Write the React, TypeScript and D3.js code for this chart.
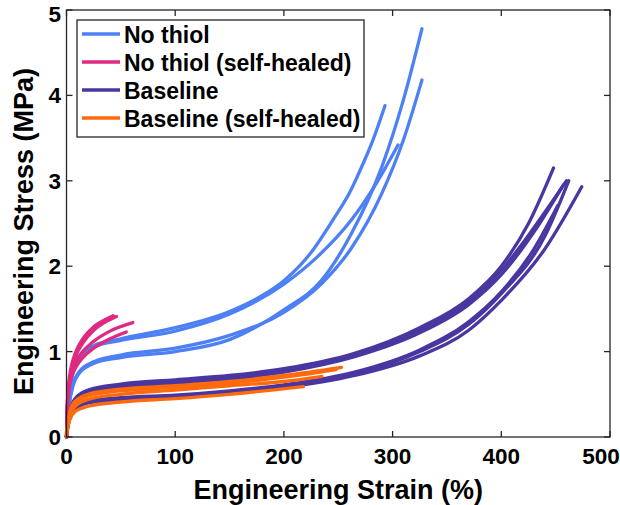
import React from "react";
import * as d3 from "d3";

type Pt = [number, number];

// Series (strain %, stress MPa)
const noThiol: Pt[][] = [
  [[0,0],[1,0.3],[3,0.58],[6,0.78],[12,0.95],[25,1.07],[50,1.15],[100,1.28],[150,1.47],[175,1.62],[200,1.83],[225,2.16],[245,2.54],[260,2.85],[270,3.12],[282,3.48],[293,3.88]],
  [[0,0],[1,0.28],[3,0.55],[6,0.75],[12,0.92],[25,1.05],[50,1.13],[100,1.24],[150,1.44],[200,1.79],[230,2.1],[262,2.54],[285,2.97],[305,3.42]],
  [[0,0],[1,0.2],[3,0.42],[6,0.6],[12,0.75],[25,0.86],[50,0.93],[100,1.0],[150,1.14],[200,1.49],[235,1.84],[262,2.38],[290,3.16],[310,3.95],[327,4.78]],
  [[0,0],[1,0.21],[3,0.44],[6,0.62],[12,0.77],[25,0.88],[50,0.96],[100,1.04],[150,1.19],[200,1.46],[235,1.8],[262,2.21],[290,2.85],[310,3.48],[327,4.18]],
];
const noThiolHealed: Pt[][] = [
  [[0,0],[0.5,0.3],[1,0.45],[2,0.62],[4,0.8],[8,0.98],[15,1.15],[25,1.29],[35,1.37],[43,1.42]],
  [[0,0],[0.5,0.28],[1,0.42],[2,0.58],[4,0.75],[8,0.93],[15,1.1],[25,1.25],[35,1.34],[46,1.41]],
  [[0,0],[0.5,0.26],[1,0.4],[2,0.55],[4,0.7],[8,0.86],[15,1.0],[25,1.12],[40,1.24],[61,1.34]],
  [[0,0],[0.5,0.25],[1,0.38],[2,0.52],[4,0.67],[8,0.8],[15,0.93],[25,1.04],[40,1.15],[55,1.23]],
];
const baseline: Pt[][] = [
  [[0,0],[1,0.15],[3,0.3],[8,0.45],[20,0.55],[50,0.62],[100,0.67],[150,0.72],[200,0.8],[265,0.98],[325,1.28],[370,1.62],[400,2.0],[425,2.5],[448,3.15]],
  [[0,0],[1,0.14],[3,0.29],[8,0.43],[20,0.53],[50,0.6],[100,0.65],[150,0.7],[200,0.78],[265,0.96],[325,1.25],[370,1.58],[400,1.95],[430,2.45],[460,3.0]],
  [[0,0],[1,0.13],[3,0.28],[8,0.42],[20,0.52],[50,0.58],[100,0.63],[150,0.68],[200,0.76],[265,0.94],[325,1.22],[370,1.55],[400,1.9],[430,2.4],[457,2.95]],
  [[0,0],[1,0.1],[3,0.22],[8,0.33],[20,0.4],[50,0.44],[100,0.47],[150,0.52],[200,0.58],[265,0.72],[325,0.95],[370,1.25],[400,1.6],[440,2.2],[474,2.93]],
  [[0,0],[1,0.11],[3,0.24],[8,0.35],[20,0.42],[50,0.46],[100,0.49],[150,0.54],[200,0.61],[265,0.76],[325,1.02],[370,1.35],[400,1.7],[430,2.2],[452,2.71]],
  [[0,0],[1,0.11],[3,0.23],[8,0.34],[20,0.41],[50,0.45],[100,0.48],[150,0.53],[200,0.6],[265,0.74],[325,1.0],[370,1.32],[400,1.68],[440,2.35],[462,3.0]],
];
const baselineHealed: Pt[][] = [
  [[0,0],[1,0.15],[3,0.3],[8,0.42],[20,0.5],[50,0.56],[100,0.6],[150,0.65],[200,0.72],[253,0.815]],
  [[0,0],[1,0.14],[3,0.28],[8,0.4],[20,0.48],[50,0.54],[100,0.58],[150,0.63],[200,0.7],[248,0.79]],
  [[0,0],[1,0.12],[3,0.25],[8,0.36],[20,0.44],[50,0.5],[100,0.55],[150,0.6],[200,0.65],[235,0.71]],
  [[0,0],[1,0.1],[3,0.2],[8,0.3],[20,0.36],[50,0.41],[100,0.45],[150,0.5],[218,0.59]],
];

const seriesNames = ["No thiol", "No thiol (self-healed)", "Baseline", "Baseline (self-healed)"];
const seriesColors = ["#4d80f5", "#de2a80", "#4a36a1", "#ff6a0d"];
const allSeries = [noThiol, noThiolHealed, baseline, baselineHealed];
const xTicks = [0, 100, 200, 300, 400, 500];
const yTicks = [0, 1, 2, 3, 4, 5];

const W = 620, H = 505;
const L = 66.5, R = 610, T = 10, B = 437;
const font = "'Liberation Sans', Arial, Helvetica, sans-serif";

export default function App() {
  const x = d3.scaleLinear().domain([0, 500]).range([L, R]);
  const y = d3.scaleLinear().domain([0, 5]).range([B, T]);
  const line = d3.line<Pt>().x(d => x(d[0])).y(d => y(d[1])).curve(d3.curveMonotoneX);
  const axisColor = "#262626";
  const tl = 6;
  return (
    <svg width={W} height={H} style={{ position: "absolute", left: 0, top: 0, background: "#fff" }} fontFamily={font}>
      <rect x={0} y={0} width={W} height={H} fill="#fff" />
      {allSeries.map((group, gi) => (
        <g key={gi}>
          {group.map((c, ci) => (
            <path key={ci} d={line(c) || ""} fill="none" stroke={seriesColors[gi]} strokeWidth={3.3} strokeLinecap="round" strokeLinejoin="round" />
          ))}
        </g>
      ))}
      {/* axes box */}
      <rect x={L} y={T} width={R - L} height={B - T} fill="none" stroke={axisColor} strokeWidth={1.3} />
      {xTicks.map(t => (
        <g key={"x" + t}>
          <line x1={x(t)} x2={x(t)} y1={B} y2={B - tl} stroke={axisColor} strokeWidth={1.3} />
          <line x1={x(t)} x2={x(t)} y1={T} y2={T + tl} stroke={axisColor} strokeWidth={1.3} />
          <text x={Math.min(x(t), W - 19)} y={464} textAnchor="middle" fontSize={22.5} fontWeight="bold" fill="#000">{t}</text>
        </g>
      ))}
      {yTicks.map(t => (
        <g key={"y" + t}>
          <line x1={L} x2={L + tl} y1={y(t)} y2={y(t)} stroke={axisColor} strokeWidth={1.3} />
          <line x1={R} x2={R - tl} y1={y(t)} y2={y(t)} stroke={axisColor} strokeWidth={1.3} />
          <text x={61} y={Math.max(y(t), 14) + 8} textAnchor="end" fontSize={22.5} fontWeight="bold" fill="#000">{t}</text>
        </g>
      ))}
      <text x={(L + R) / 2} y={499} textAnchor="middle" fontSize={27} fontWeight="bold" fill="#000">Engineering Strain (%)</text>
      <text transform={`translate(33,${(T + B) / 2 + 8}) rotate(-90)`} textAnchor="middle" fontSize={27} fontWeight="bold" fill="#000">Engineering Stress (MPa)</text>
      {/* legend */}
      <rect x={77} y={20} width={287} height={117} fill="#fff" stroke={axisColor} strokeWidth={1.3} />
      {seriesNames.map((n, i) => {
        const cy = 34 + i * 28;
        return (
          <g key={n}>
            <line x1={82} x2={120} y1={cy} y2={cy} stroke={seriesColors[i]} strokeWidth={3.3} />
            <text x={124} y={cy + 8.5} fontSize={23} fontWeight="bold" fill="#000">{n}</text>
          </g>
        );
      })}
    </svg>
  );
}
